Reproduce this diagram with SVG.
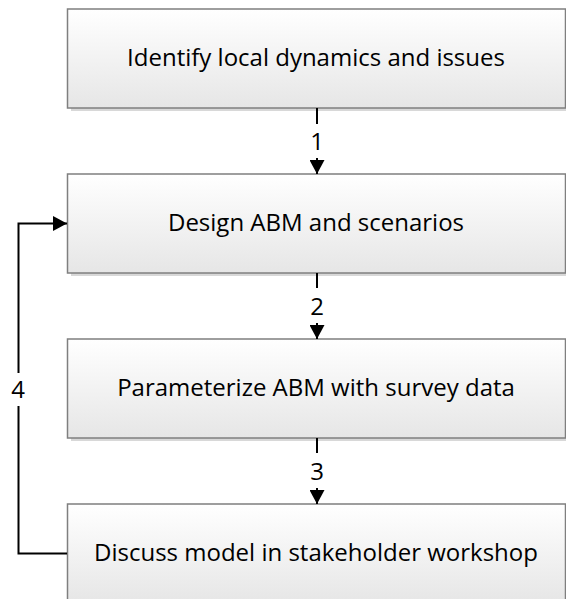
<svg xmlns="http://www.w3.org/2000/svg" width="566" height="599" viewBox="0 0 566 599">
<defs>
<linearGradient id="g" x1="0" y1="0" x2="0" y2="1">
<stop offset="0" stop-color="#ffffff"/>
<stop offset="1" stop-color="#e6e6e6"/>
</linearGradient>
<marker id="ah" viewBox="0 0 14 15" refX="14" refY="7.5" markerWidth="14" markerHeight="15" markerUnits="userSpaceOnUse" orient="auto">
<path d="M0,0 L14,7.5 L0,15 Z" fill="#000"/>
</marker>
<style>
.shadow{fill:#d8d8d8;}
.box{fill:url(#g);stroke:#7f7f7f;stroke-width:1.5;}
.t{font-family:"Open Sans","Noto Sans",sans-serif;font-size:24px;fill:#000;text-anchor:middle;}
.c{stroke:#000;stroke-width:2;fill:none;}
</style>
</defs>
<g id="n1">
<rect class="shadow" x="71" y="12" width="500" height="99"/>
<rect class="box" x="67.5" y="9" width="498" height="99"/>
<text class="t" x="316" y="66">Identify local dynamics and issues</text>
</g>
<g id="n2">
<rect class="shadow" x="71" y="177" width="500" height="99"/>
<rect class="box" x="67.5" y="174" width="498" height="99"/>
<text class="t" x="316" y="231">Design ABM and scenarios</text>
</g>
<g id="n3">
<rect class="shadow" x="71" y="342" width="500" height="99"/>
<rect class="box" x="67.5" y="339" width="498" height="99"/>
<text class="t" x="316" y="396">Parameterize ABM with survey data</text>
</g>
<g id="n4">
<rect class="shadow" x="71" y="507" width="500" height="99"/>
<rect class="box" x="67.5" y="504" width="498" height="99"/>
<text class="t" x="316" y="561">Discuss model in stakeholder workshop</text>
</g>
<g id="connectors">
<line class="c" x1="317" y1="108" x2="317" y2="124"/>
<line class="c" x1="317" y1="158" x2="317" y2="174" marker-end="url(#ah)"/>
<text class="t" x="317" y="150">1</text>
<line class="c" x1="317" y1="273" x2="317" y2="288"/>
<line class="c" x1="317" y1="323" x2="317" y2="339" marker-end="url(#ah)"/>
<text class="t" x="317" y="315">2</text>
<line class="c" x1="317" y1="438" x2="317" y2="453"/>
<line class="c" x1="317" y1="488" x2="317" y2="504" marker-end="url(#ah)"/>
<text class="t" x="317" y="480">3</text>
<path class="c" d="M67,553.5 H18.5 V406"/>
<path class="c" d="M18.5,373 V223.5 H67" marker-end="url(#ah)"/>
<text class="t" x="18" y="398">4</text>
</g>
</svg>
